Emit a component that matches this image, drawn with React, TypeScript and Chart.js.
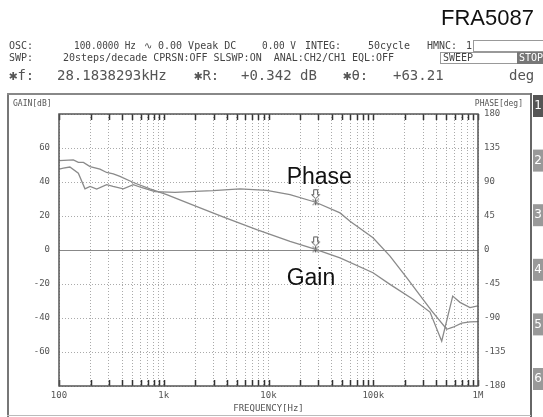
import React, { useEffect, useRef } from 'react';
import { Chart, registerables } from 'chart.js';

Chart.register(...registerables);

// ---- data ----
const gainFreq = [100, 137, 153, 171, 198, 246, 285, 330, 382, 512, 739, 1067, 1988, 3677, 7717, 16040, 28184, 48160, 99450, 144500, 239600, 348200, 450300, 573500, 673000, 839000, 1000000];
const gainDb = [52.6, 53.0, 51.5, 51.5, 49.1, 47.6, 45.6, 44.8, 43.3, 39.7, 35.9, 32.6, 26.0, 19.5, 12.0, 5.1, 0.34, -4.6, -13.4, -20.2, -29.0, -36.5, -53.6, -27.1, -30.8, -33.9, -32.9];

const phaseFreq = [100, 110, 127, 153, 177, 198, 229, 285, 328, 411, 512, 620, 825, 1280, 1988, 2951, 5343, 9611, 16040, 28184, 48160, 60000, 99450, 144500, 208500, 298500, 361400, 502600, 577000, 698400, 838600, 1000000];
const phaseDeg = [107, 108.4, 109.8, 101.7, 81.0, 84.1, 80.7, 86.5, 84.1, 81.0, 86.5, 82.4, 77.2, 76.3, 77.6, 78.5, 80.8, 78.8, 73.2, 63.21, 49.1, 38.0, 16.1, -8.1, -36.6, -65.3, -80.7, -104.9, -102.2, -96.9, -95.2, -94.7];

const markerFreq = 28183.8293;
const markerGain = 0.342;
const markerPhase = 63.21;

const xTickValues = [
  100, 200, 300, 400, 500, 600, 700, 800, 900,
  1000, 2000, 3000, 4000, 5000, 6000, 7000, 8000, 9000,
  10000, 20000, 30000, 40000, 50000, 60000, 70000, 80000, 90000,
  100000, 200000, 300000, 400000, 500000, 600000, 700000, 800000, 900000,
  1000000,
];
const xLabelValues = [100, 1000, 10000, 100000, 1000000];
const xLabelTexts = ['100', '1k', '10k', '100k', '1M'];
const gainTicks = [-80, -60, -40, -20, 0, 20, 40, 60, 80];
const phaseTicks = [-180, -135, -90, -45, 0, 45, 90, 135, 180];

const MONO = '"DejaVu Sans Mono", monospace';
const ARIAL = '"Liberation Sans", Arial, sans-serif';

function makeMarker(): HTMLCanvasElement {
  const c = document.createElement('canvas');
  c.width = 11;
  c.height = 30;
  const g = c.getContext('2d')!;
  g.strokeStyle = '#555';
  g.lineWidth = 1;
  g.fillStyle = '#fff';
  g.beginPath();
  g.moveTo(3.5, 2.5);
  g.lineTo(7.5, 2.5);
  g.lineTo(7.5, 7.5);
  g.lineTo(9.5, 7.5);
  g.lineTo(5.5, 11.5);
  g.lineTo(1.5, 7.5);
  g.lineTo(3.5, 7.5);
  g.closePath();
  g.fill();
  g.stroke();
  g.beginPath();
  g.moveTo(2.5, 12);
  g.lineTo(8.5, 18);
  g.moveTo(8.5, 12);
  g.lineTo(2.5, 18);
  g.moveTo(5.5, 12);
  g.lineTo(5.5, 18);
  g.stroke();
  return c;
}

function txt(ctx: CanvasRenderingContext2D, s: string, x: number, y: number, size: number, color: string, maxW?: number, align: CanvasTextAlign = 'left', family = MONO) {
  ctx.font = `${size}px ${family}`;
  ctx.fillStyle = color;
  ctx.textAlign = align;
  ctx.textBaseline = 'middle';
  if (maxW) ctx.fillText(s, x, y, maxW);
  else ctx.fillText(s, x, y);
}

const decorPlugin = {
  id: 'decor',
  beforeDraw(chart: any) {
    const ctx: CanvasRenderingContext2D = chart.ctx;
    ctx.save();
    ctx.fillStyle = '#fff';
    ctx.fillRect(0, 0, chart.width, chart.height);

    // title
    ctx.font = `22px ${ARIAL}`;
    ctx.fillStyle = '#111';
    ctx.textAlign = 'left';
    ctx.textBaseline = 'alphabetic';
    ctx.fillText('FRA5087', 441, 25);

    const c1 = '#444';
    // row 1
    txt(ctx, 'OSC:', 9, 46, 10, c1);
    txt(ctx, '100.0000 Hz', 74, 46, 10, c1, 62);
    txt(ctx, '\u223F 0.00 Vpeak DC', 144, 46, 10, c1, 111);
    txt(ctx, '0.00 V', 262, 46, 10, c1, 34);
    txt(ctx, 'INTEG:', 305, 46, 10, c1, 36);
    txt(ctx, '50cycle', 368, 46, 10, c1, 42);
    txt(ctx, 'HMNC:', 427, 46, 10, c1, 30);
    txt(ctx, '1', 466, 46, 10, c1);
    ctx.strokeStyle = '#999';
    ctx.lineWidth = 1;
    ctx.strokeRect(473.5, 40.5, 75, 11);

    // row 2
    txt(ctx, 'SWP:', 9, 58, 10, c1);
    txt(ctx, '20steps/decade CPRSN:OFF SLSWP:ON  ANAL:CH2/CH1 EQL:OFF', 63, 58, 10, c1, 374);
    ctx.strokeStyle = '#999';
    ctx.strokeRect(440.5, 52.5, 77, 11);
    txt(ctx, 'SWEEP', 443, 58, 10, c1);
    ctx.fillStyle = '#777';
    ctx.fillRect(517, 52, 26, 12);
    txt(ctx, 'STOP', 519, 58, 10, '#fff');

    // row 3
    const c3 = '#555';
    txt(ctx, '\u2731f:', 9, 76, 14, c3);
    txt(ctx, '28.1838293kHz', 57, 76, 14, c3);
    txt(ctx, '\u2731R:', 194, 76, 14, c3);
    txt(ctx, '+0.342 dB', 241, 76, 14, c3);
    txt(ctx, '\u2731\u03B8:', 343, 76, 14, c3);
    txt(ctx, '+63.21', 393, 76, 14, c3);
    txt(ctx, 'deg', 509, 76, 14, c3);

    // outer frame
    ctx.strokeStyle = '#777';
    ctx.lineWidth = 2;
    ctx.beginPath();
    ctx.moveTo(8, 93);
    ctx.lineTo(8, 417);
    ctx.stroke();
    ctx.strokeStyle = '#888';
    ctx.beginPath();
    ctx.moveTo(7, 94);
    ctx.lineTo(531, 94);
    ctx.stroke();
    ctx.strokeStyle = '#666';
    ctx.beginPath();
    ctx.moveTo(531, 93);
    ctx.lineTo(531, 417);
    ctx.stroke();
    ctx.strokeStyle = '#bbb';
    ctx.lineWidth = 1;
    ctx.beginPath();
    ctx.moveTo(7, 415.5);
    ctx.lineTo(531, 415.5);
    ctx.stroke();

    // tabs
    for (let i = 0; i < 6; i++) {
      const y = 95 + 54.6 * i;
      ctx.fillStyle = i === 0 ? '#555' : '#999';
      ctx.fillRect(533, y, 10, 22);
      txt(ctx, String(i + 1), 538, y + 11, 12, '#fff', undefined, 'center', '"DejaVu Sans", sans-serif');
    }

    txt(ctx, 'GAIN[dB]', 13, 104, 8, '#555');
    txt(ctx, 'PHASE[deg]', 523, 104, 8, '#555', undefined, 'right');
    ctx.restore();
  },
  beforeDatasetsDraw(chart: any) {
    const ctx: CanvasRenderingContext2D = chart.ctx;
    const a = chart.chartArea;
    const ys = chart.scales.y;
    const y0 = Math.round(ys.getPixelForValue(0)) + 0.5;
    ctx.save();
    ctx.strokeStyle = '#888';
    ctx.lineWidth = 1;
    ctx.beginPath();
    ctx.moveTo(a.left, y0);
    ctx.lineTo(a.right, y0);
    ctx.stroke();
    ctx.restore();
  },
  afterDraw(chart: any) {
    const ctx: CanvasRenderingContext2D = chart.ctx;
    const a = chart.chartArea;
    const xs = chart.scales.x;
    ctx.save();
    // inner tick marks
    ctx.strokeStyle = '#333';
    ctx.lineWidth = 1.5;
    ctx.beginPath();
    for (const t of xs.ticks) {
      const px = Math.round(xs.getPixelForValue(t.value)) + 0.5;
      ctx.moveTo(px, a.top);
      ctx.lineTo(px, a.top + 6);
      ctx.moveTo(px, a.bottom);
      ctx.lineTo(px, a.bottom - 6);
    }
    ctx.stroke();
    // plot frame
    ctx.strokeStyle = '#555';
    ctx.lineWidth = 1.5;
    ctx.strokeRect(a.left, a.top, a.right - a.left, a.bottom - a.top);

    // annotations
    const mx = xs.getPixelForValue(markerFreq);
    const gy = chart.scales.y.getPixelForValue(markerGain);
    const py = chart.scales.y2.getPixelForValue(markerPhase);
    ctx.font = `23px ${ARIAL}`;
    ctx.fillStyle = '#111';
    ctx.textAlign = 'left';
    ctx.textBaseline = 'alphabetic';
    ctx.fillText('Phase', mx - 29, py - 18);
    ctx.fillText('Gain', mx - 29, gy + 36);
    ctx.restore();
  },
};

export default function App() {
  const ref = useRef<HTMLCanvasElement | null>(null);
  useEffect(() => {
    if (!ref.current) return;
    const marker = makeMarker();
    const lineColor = '#8a8a8a';
    const chart = new Chart(ref.current, {
      type: 'line',
      data: {
        datasets: [
          {
            label: 'Gain',
            data: gainFreq.map((f, i) => ({ x: f, y: gainDb[i] })),
            yAxisID: 'y',
            borderColor: lineColor,
            borderWidth: 1.3,
            pointRadius: 0,
            tension: 0,
          },
          {
            label: 'Phase',
            data: phaseFreq.map((f, i) => ({ x: f, y: phaseDeg[i] })),
            yAxisID: 'y2',
            borderColor: lineColor,
            borderWidth: 1.3,
            pointRadius: 0,
            tension: 0,
          },
          {
            label: 'Gain marker',
            data: [{ x: markerFreq, y: markerGain }],
            yAxisID: 'y',
            showLine: false,
            pointStyle: marker as any,
            pointRadius: 5,
          },
          {
            label: 'Phase marker',
            data: [{ x: markerFreq, y: markerPhase }],
            yAxisID: 'y2',
            showLine: false,
            pointStyle: marker as any,
            pointRadius: 5,
          },
        ],
      },
      options: {
        responsive: false,
        animation: false,
        layout: { padding: { top: 114, left: 0, right: 0, bottom: 0 } },
        plugins: { legend: { display: false }, tooltip: { enabled: false } },
        scales: {
          x: {
            type: 'logarithmic',
            min: 100,
            max: 1000000,
            afterBuildTicks: (s: any) => {
              s.ticks = xTickValues.map((v) => ({ value: v }));
            },
            afterFit: (s: any) => {
              s.height = 31;
            },
            ticks: {
              autoSkip: false,
              maxRotation: 0,
              padding: 4,
              color: '#555',
              font: { family: MONO, size: 9 },
              callback: (v: any) => {
                const k = xLabelValues.indexOf(Number(v));
                return k >= 0 ? xLabelTexts[k] : '';
              },
            },
            grid: { color: '#aaa', lineWidth: 1, drawTicks: false },
            border: { display: false, dash: [1, 2] },
            title: {
              display: true,
              text: 'FREQUENCY[Hz]',
              color: '#555',
              font: { family: MONO, size: 9 },
              padding: { top: 0, bottom: 3 },
            },
          },
          y: {
            position: 'left',
            min: -80,
            max: 80,
            afterBuildTicks: (s: any) => {
              s.ticks = gainTicks.map((v) => ({ value: v }));
            },
            afterFit: (s: any) => {
              s.width = 59;
            },
            ticks: {
              padding: 9,
              color: '#555',
              font: { family: MONO, size: 9 },
              callback: (v: any) => (Math.abs(Number(v)) === 80 ? '' : String(v)),
            },
            grid: { color: '#aaa', lineWidth: 1, drawTicks: false },
            border: { display: false, dash: [1, 2] },
          },
          y2: {
            position: 'right',
            min: -180,
            max: 180,
            afterBuildTicks: (s: any) => {
              s.ticks = phaseTicks.map((v) => ({ value: v }));
            },
            afterFit: (s: any) => {
              s.width = 65;
            },
            ticks: {
              padding: 6,
              color: '#555',
              font: { family: MONO, size: 9 },
              callback: (v: any) => String(v),
            },
            grid: { display: false, drawTicks: false },
            border: { display: false },
          },
        },
      } as any,
      plugins: [decorPlugin],
    });
    return () => chart.destroy();
  }, []);

  return (
    <div style={{ position: 'absolute', left: 0, top: 0, width: 543, height: 417, background: '#fff' }}>
      <canvas ref={ref} width={543} height={417} style={{ display: 'block' }} />
    </div>
  );
}
